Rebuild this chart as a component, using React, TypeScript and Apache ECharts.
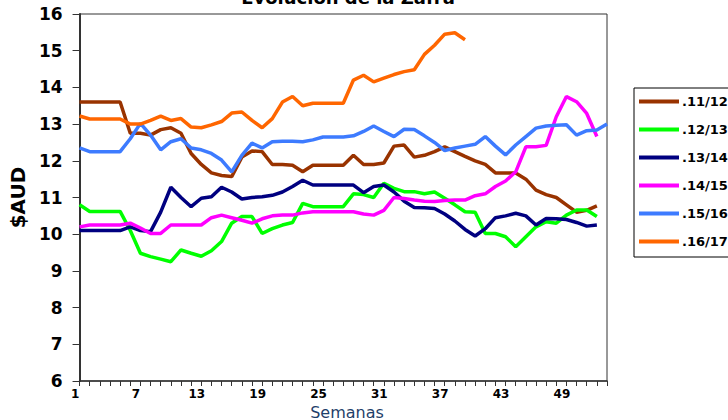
import React, { useEffect, useRef } from "react";
import * as echarts from "echarts";

const weeks: string[] = [
  "1","2","3","4","5","6","7","8","9","10","11","12","13","14","15","16","17","18","19","20",
  "21","22","23","24","25","26","27","28","29","30","31","32","33","34","35","36","37","38","39","40",
  "41","42","43","44","45","46","47","48","49","50","51","52","53",
];

const seriesNames: string[] = [".11/12", ".12/13", ".13/14", ".14/15", ".15/16", ".16/17"];
const seriesColors: string[] = ["#993300", "#00FF00", "#000080", "#FF00FF", "#3D7BFF", "#FF6600"];

const s1112: number[] = [
  13.6, 13.6, 13.6, 13.6, 13.6, 12.75, 12.75, 12.7, 12.85, 12.9,
  12.75, 12.2, 11.9, 11.67, 11.6, 11.57, 12.1, 12.27, 12.25, 11.9,
  11.9, 11.88, 11.7, 11.88, 11.88, 11.88, 11.88, 12.15, 11.9, 11.9,
  11.94, 12.4, 12.43, 12.1, 12.15, 12.25, 12.38, 12.25, 12.12, 12.0,
  11.9, 11.67, 11.67, 11.67, 11.5, 11.2, 11.08, 11.0, 10.8, 10.6,
  10.65, 10.77,
];
const s1213: number[] = [
  10.8, 10.62, 10.62, 10.62, 10.62, 10.1, 9.48, 9.39, 9.32, 9.25,
  9.57, 9.48, 9.4, 9.55, 9.8, 10.3, 10.48, 10.48, 10.02, 10.15,
  10.25, 10.32, 10.84, 10.75, 10.75, 10.75, 10.75, 11.1, 11.08, 11.0,
  11.39, 11.25, 11.16, 11.16, 11.1, 11.15, 10.98, 10.8, 10.61, 10.6,
  10.02, 10.02, 9.93, 9.66, 9.93, 10.2, 10.34, 10.3, 10.52, 10.66,
  10.66, 10.48,
];
const s1314: number[] = [
  10.1, 10.1, 10.1, 10.1, 10.1, 10.2, 10.1, 10.07, 10.6, 11.28,
  11.0, 10.75, 10.98, 11.02, 11.28, 11.15, 10.96, 11.0, 11.02, 11.06,
  11.15, 11.3, 11.47, 11.34, 11.34, 11.34, 11.34, 11.34, 11.13, 11.3,
  11.34, 11.15, 10.9, 10.73, 10.72, 10.7, 10.55, 10.36, 10.13, 9.95,
  10.15, 10.45, 10.5, 10.57, 10.5, 10.25, 10.43, 10.42, 10.4, 10.32,
  10.22, 10.25,
];
const s1415: number[] = [
  10.2, 10.25, 10.25, 10.25, 10.25, 10.3, 10.17, 10.02, 10.02, 10.25,
  10.25, 10.25, 10.25, 10.45, 10.52, 10.45, 10.38, 10.3, 10.42, 10.5,
  10.52, 10.52, 10.58, 10.61, 10.61, 10.61, 10.61, 10.61, 10.55, 10.52,
  10.65, 11.0, 10.97, 10.93, 10.9, 10.89, 10.92, 10.93, 10.93, 11.05,
  11.1, 11.3, 11.45, 11.7, 12.38, 12.38, 12.42, 13.2, 13.75, 13.61,
  13.29, 12.66,
];
const s1516: number[] = [
  12.35, 12.25, 12.25, 12.25, 12.25, 12.6, 13.02, 12.7, 12.3, 12.52,
  12.6, 12.35, 12.3, 12.2, 12.02, 11.7, 12.15, 12.48, 12.35, 12.52,
  12.53, 12.53, 12.52, 12.57, 12.65, 12.65, 12.65, 12.68, 12.8, 12.95,
  12.8, 12.66, 12.86, 12.85, 12.68, 12.5, 12.28, 12.35, 12.4, 12.45,
  12.66, 12.4, 12.16, 12.43, 12.66, 12.89, 12.95, 12.97, 12.98, 12.7,
  12.82, 12.84, 13.0,
];
const s1617: number[] = [
  13.22, 13.14, 13.14, 13.14, 13.14, 13.0, 13.0, 13.1, 13.22, 13.1,
  13.15, 12.92, 12.9, 12.98, 13.07, 13.3, 13.33, 13.1, 12.9, 13.15,
  13.6, 13.75, 13.5, 13.57, 13.57, 13.57, 13.57, 14.2, 14.33, 14.15,
  14.25, 14.35, 14.43, 14.48, 14.9, 15.15, 15.45, 15.49, 15.3,
];

const seriesData: number[][] = [s1112, s1213, s1314, s1415, s1516, s1617];

const FONT = "DejaVu Sans, Verdana, sans-serif";

export default function App() {
  const ref = useRef<HTMLDivElement>(null);

  useEffect(() => {
    if (!ref.current) return;
    const chart = echarts.init(ref.current, null, { renderer: "svg" });
    chart.setOption({
      animation: false,
      backgroundColor: "#ffffff",
      graphic: [
        {
          type: "text",
          x: 348,
          y: -3,
          style: {
            text: "Evolución de la Zafra",
            font: `bold 18px ${FONT}`,
            fill: "#000000",
            textAlign: "center",
            textVerticalAlign: "middle",
          },
        },
        {
          type: "text",
          x: 347,
          y: 412,
          style: {
            text: "Semanas",
            font: `16px ${FONT}`,
            fill: "#1F3F6A",
            textAlign: "center",
            textVerticalAlign: "middle",
          },
        },
      ],
      grid: {
        left: 61,
        right: 121,
        top: 14,
        bottom: 39,
        show: true,
        borderColor: "#333333",
        borderWidth: 1,
        backgroundColor: "#ffffff",
      },
      legend: {
        orient: "vertical",
        left: 634,
        top: 88,
        icon: "rect",
        itemWidth: 40,
        itemHeight: 4,
        itemGap: 15,
        padding: [7, 8, 9, 5],
        borderColor: "#000000",
        borderWidth: 1,
        data: seriesNames,
        textStyle: {
          fontFamily: FONT,
          fontWeight: "bold",
          fontSize: 13,
          color: "#000000",
          padding: [0, 0, 0, -2],
        },
      },
      xAxis: {
        type: "category",
        data: weeks,
        boundaryGap: false,
        axisLine: { lineStyle: { color: "#333333", width: 1.5 } },
        axisTick: { interval: 0, length: 5, lineStyle: { color: "#333333" } },
        axisLabel: {
          interval: 5,
          fontFamily: FONT,
          fontWeight: "bold",
          fontSize: 12,
          color: "#000000",
          margin: 7,
          padding: [0, 9, 0, 0],
        },
        splitLine: { show: false },
      },
      yAxis: {
        type: "value",
        min: 6,
        max: 16,
        interval: 1,
        name: "$AUD",
        nameLocation: "middle",
        nameRotate: 90,
        nameGap: 42,
        nameTextStyle: {
          fontFamily: FONT,
          fontWeight: "bold",
          fontSize: 20,
          color: "#000000",
        },
        axisLine: { show: true, lineStyle: { color: "#333333", width: 2 } },
        axisTick: { show: true, length: 7, lineStyle: { color: "#333333" } },
        axisLabel: {
          fontFamily: FONT,
          fontWeight: "bold",
          fontSize: 17,
          color: "#000000",
          margin: 17,
        },
        splitLine: { show: false },
      },
      series: seriesNames.map((name, i) => ({
        name,
        type: "line",
        data: seriesData[i],
        showSymbol: false,
        symbol: "none",
        color: seriesColors[i],
        lineStyle: { width: 3.5, color: seriesColors[i] },
      })),
    });
    return () => chart.dispose();
  }, []);

  return <div ref={ref} style={{ width: 728, height: 420, position: "absolute", left: 0, top: 0 }} />;
}
